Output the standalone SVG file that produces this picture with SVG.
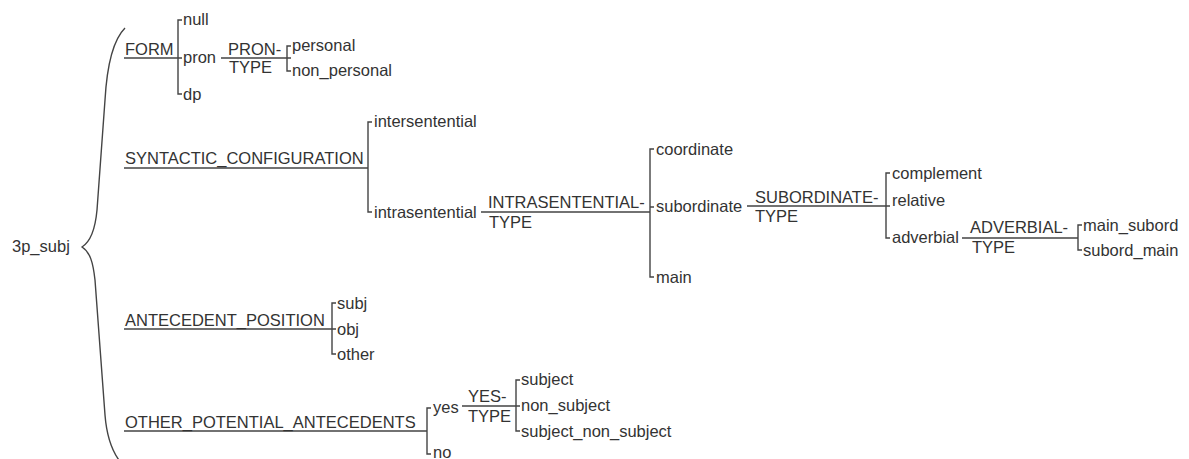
<svg xmlns="http://www.w3.org/2000/svg" width="1189" height="459" viewBox="0 0 1189 459">
<style>
text{font-family:"Liberation Sans",Arial,sans-serif;font-size:16.5px;fill:#333}
.c path,.c line{stroke:#444;stroke-width:1.4;fill:none}
</style>
<rect width="1189" height="459" fill="#fff"/>
<g class="c" id="connectors">
<path d="M125,28 C113,40 107,65 105,100 L97,210 C95,232 90,242 82,247 C90,252 93,262 95,280 L105,415 C107,440 113,455 124,466"/>
<!-- FORM -->
<path d="M124,58 H182 M182,20 H178 V94 H182"/>
<path d="M221,58 H291 M291,46 H287 V71 H291"/>
<!-- SYNTACTIC -->
<path d="M124,168 H368 M372,122 H368 V212 H372"/>
<path d="M481,212 H650 M654,149 H650 V277 H654 M650,207 H654"/>
<path d="M747,206 H890 M890,173 H886 V238 H890"/>
<path d="M962,238 H1078 M1082,225 H1078 V250 H1082"/>
<!-- ANTECEDENT -->
<path d="M124,329 H336 M336,303 H332 V354 H336"/>
<!-- OTHER -->
<path d="M124,431 H427 M431,408 H427 V454 H431"/>
<path d="M462,406 H520 M520,380 H516 V431 H520"/>
</g>
<g id="root"><text x="12" y="252">3p_subj</text></g>
<g id="form"><text x="125" y="55">FORM</text></g>
<g id="null"><text x="183" y="25">null</text></g>
<g id="pron"><text x="183" y="63">pron</text></g>
<g id="dp"><text x="183" y="100">dp</text></g>
<g id="pron-type"><text x="228" y="55">PRON-</text><text x="229" y="73">TYPE</text></g>
<g id="personal"><text x="292" y="51">personal</text></g>
<g id="non_personal"><text x="292" y="76">non_personal</text></g>
<g id="syntactic"><text x="125" y="164">SYNTACTIC_CONFIGURATION</text></g>
<g id="intersentential"><text x="374" y="127">intersentential</text></g>
<g id="intrasentential"><text x="374" y="218">intrasentential</text></g>
<g id="intra-type"><text x="488" y="208">INTRASENTENTIAL-</text><text x="489" y="228">TYPE</text></g>
<g id="coordinate"><text x="656" y="155">coordinate</text></g>
<g id="subordinate"><text x="656" y="212">subordinate</text></g>
<g id="main"><text x="656" y="283">main</text></g>
<g id="sub-type"><text x="755" y="203">SUBORDINATE-</text><text x="755" y="222">TYPE</text></g>
<g id="complement"><text x="892" y="179">complement</text></g>
<g id="relative"><text x="892" y="206">relative</text></g>
<g id="adverbial"><text x="892" y="243">adverbial</text></g>
<g id="adv-type"><text x="970" y="233">ADVERBIAL-</text><text x="972" y="253">TYPE</text></g>
<g id="main_subord"><text x="1083" y="231">main_subord</text></g>
<g id="subord_main"><text x="1083" y="256">subord_main</text></g>
<g id="antecedent"><text x="125" y="326">ANTECEDENT_POSITION</text></g>
<g id="subj"><text x="337" y="309">subj</text></g>
<g id="obj"><text x="337" y="335">obj</text></g>
<g id="other"><text x="337" y="360">other</text></g>
<g id="opa"><text x="125" y="428">OTHER_POTENTIAL_ANTECEDENTS</text></g>
<g id="yes"><text x="433" y="413">yes</text></g>
<g id="no"><text x="433" y="458">no</text></g>
<g id="yes-type"><text x="468" y="402">YES-</text><text x="468" y="422">TYPE</text></g>
<g id="subject"><text x="521" y="385">subject</text></g>
<g id="non_subject"><text x="521" y="411">non_subject</text></g>
<g id="subject_non_subject"><text x="521" y="437">subject_non_subject</text></g>
</svg>
